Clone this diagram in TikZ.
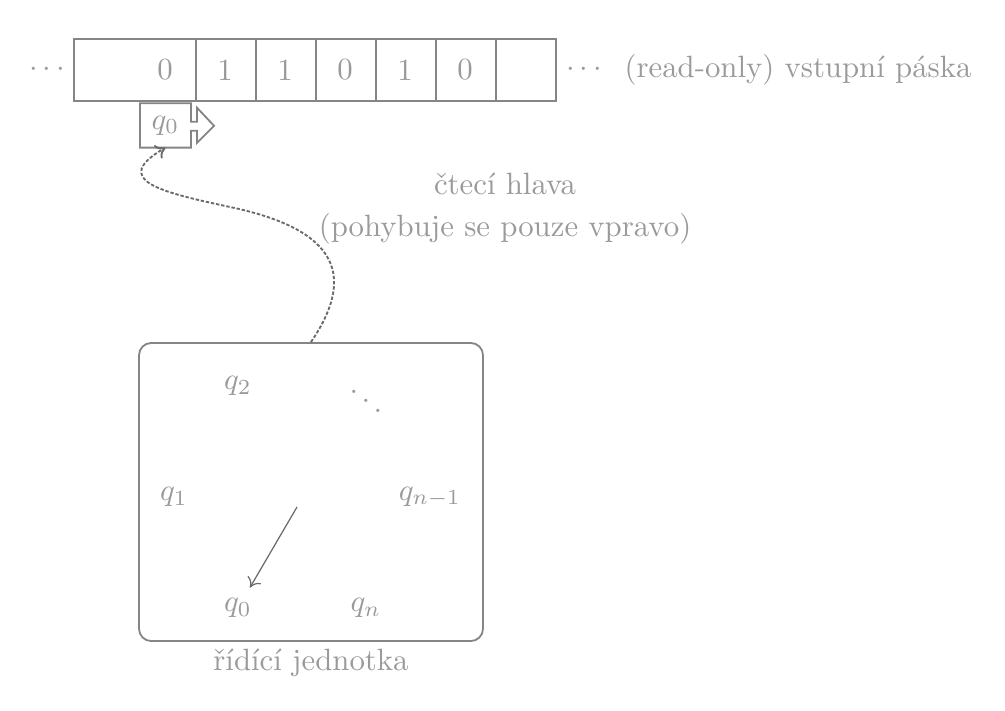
\documentclass[tikz,border=0pt]{standalone}
\usepackage{fontspec}
\usetikzlibrary{arrows.meta}
\definecolor{txt}{HTML}{9A9A9A}
\definecolor{ln}{HTML}{858585}
\definecolor{dk}{HTML}{6A6A6A}
\tikzset{
  cell/.style={minimum width=19.48pt,minimum height=19.48pt,inner sep=0pt,text=txt},
  lbl/.style={text=txt,inner sep=2pt},
  state/.style={text=txt,inner sep=3.3pt},
  tapeline/.style={draw=ln,semithick},
  conn/.style={draw=dk,semithick,dash pattern=on 1.1pt off 0.6pt,-{To[length=3pt,width=5pt]}},
  initarrow/.style={draw=dk,thin,-{To[length=3pt,width=5pt]}}
}
\begin{document}
\begin{tikzpicture}[x=0.3247pt,y=-0.3247pt]
\useasboundingbox (0,0) rectangle (1005,710);
% tape cells
\node[cell] (c1) at (105,70) {};
\node[cell] (c2) at (165,70) {0};
\node[cell] (c3) at (225,70) {1};
\node[cell] (c4) at (285,70) {1};
\node[cell] (c5) at (345,70) {0};
\node[cell] (c6) at (405,70) {1};
\node[cell] (c7) at (465,70) {0};
\node[cell] (c8) at (525,70) {};
\draw[tapeline] (c1.north west) rectangle (c8.south east);
\foreach \i in {2,...,7}{\draw[tapeline] (c\i.north east) -- (c\i.south east);}
\node[lbl] (ldots) at (47,70) {$\cdots$};
\node[lbl] (rdots) at (584,70) {$\cdots$};
\node[lbl] (tapelbl) at (798,70) {(read-only) vstupní páska};
% head
\node[state,minimum width=16.2pt,minimum height=14pt,inner sep=0pt] (head) at (165.5,125.5) {$q_0$};
\draw[tapeline,line join=miter]
  (head.north west) -- (head.north east) -- ([yshift=1.2pt]head.east) -- ++(6,0) -- ++(0,-14)
  -- ++(17,18) -- ++(-17,17) -- ++(0,-12) -- ++(-6,0) -- (head.south east) -- (head.south west) -- cycle;
\node[lbl,align=center] (headlbl) at (505,209) {čtecí hlava\\[1.6pt](pohybuje se pouze vpravo)};
% control unit
\node[draw=ln,semithick,rounded corners=4pt,minimum width=111.7pt,minimum height=96.8pt] (cu) at (311,492) {};
\node[lbl] (culbl) at (311,663) {řídící jednotka};
\node[state] (q0) at (238,608) {$q_0$};
\node[state] (q1) at (174,497) {$q_1$};
\node[state] (q2) at (238,386) {$q_2$};
\node[state] (qd) at (366,392) {$\ddots$};
\node[state] (qn1) at (430,497) {$q_{n-1}$};
\node[state] (qn) at (366,608) {$q_n$};
\coordinate (init) at (297,507);
\draw[initarrow] (init) -- (q0);
% connector
\coordinate (mid) at (230,207);
\draw[conn] (cu.north) .. controls (360,270) and (330,228) .. (mid)
  .. controls (160,192) and (110,180) .. (head.south);
\end{tikzpicture}
\end{document}
